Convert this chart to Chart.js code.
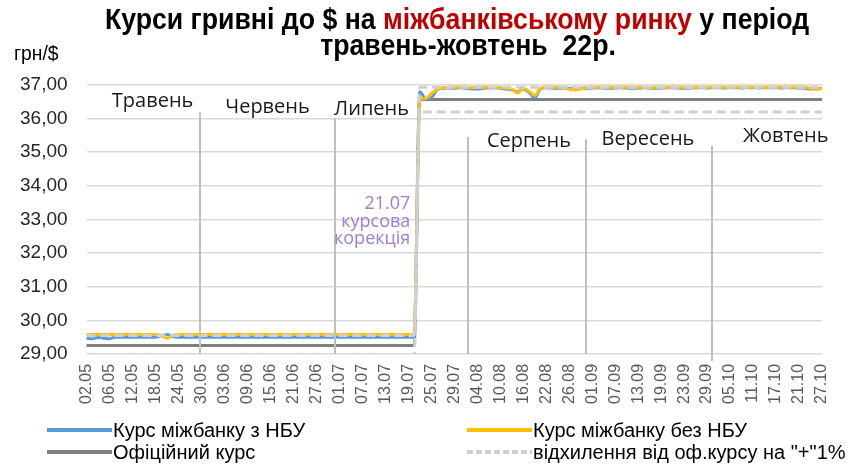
<!DOCTYPE html>
<html>
<head>
<meta charset="utf-8">
<script src="https://cdn.jsdelivr.net/npm/chart.js@4.4.1/dist/chart.umd.min.js"></script>
<style>
html, body { margin: 0; padding: 0; background: #fff; }
#wrap { position: relative; width: 864px; height: 464px; overflow: hidden; font-family: "Liberation Sans", Arial, sans-serif; }
#chart { position: absolute; left: 0; top: 0; }
.title { position: absolute; width: 900px; text-align: center; white-space: nowrap; font-weight: bold;
  font-family: "Liberation Sans", Arial, sans-serif; font-size: 29px; line-height: 30px; color: #000;
  transform: scaleX(0.92); transform-origin: center; }
.red { color: #c00000; }
#unit { position: absolute; left: 14px; top: 41px; font-size: 21px; color: #000; transform: scaleX(0.92); transform-origin: left; }
.leg { position: absolute; height: 22px; display: flex; align-items: center; font-size: 20px; white-space: nowrap; color: #000; }
.leg svg { margin-right: 1px; }
</style>
</head>
<body>
<div id="wrap">
  <canvas id="chart" width="864" height="464"></canvas>
  <div class="title" style="left:7px; top:4px;">Курси гривні до $ на <span class="red">міжбанківському ринку</span> у період</div>
  <div class="title" style="left:18px; top:30px;">травень-жовтень &nbsp;22р.</div>
  <div id="unit">грн/$</div>
  <div id="legend"></div>
</div>
<script>
// trading days, May - October 2022
const dates = [
  '02.05','03.05','04.05','05.05','06.05','09.05','10.05','11.05','12.05','13.05','16.05','17.05','18.05','19.05','20.05','23.05','24.05','25.05','26.05','27.05','30.05','31.05',
  '01.06','02.06','03.06','06.06','07.06','08.06','09.06','10.06','13.06','14.06','15.06','16.06','17.06','20.06','21.06','22.06','23.06','24.06','27.06','28.06','29.06','30.06',
  '01.07','04.07','05.07','06.07','07.07','08.07','11.07','12.07','13.07','14.07','15.07','18.07','19.07','20.07','21.07','22.07','25.07','26.07','27.07','28.07','29.07',
  '01.08','02.08','03.08','04.08','05.08','08.08','09.08','10.08','11.08','12.08','15.08','16.08','17.08','18.08','19.08','22.08','23.08','24.08','25.08','26.08','29.08','30.08','31.08',
  '01.09','02.09','05.09','06.09','07.09','08.09','09.09','12.09','13.09','14.09','15.09','16.09','19.09','20.09','21.09','22.09','23.09','26.09','27.09','28.09','29.09','30.09',
  '03.10','04.10','05.10','06.10','07.10','10.10','11.10','12.10','13.10','14.10','17.10','18.10','19.10','20.10','21.10','24.10','25.10','26.10','27.10'
];
const labelEvery = 4;

const withNbu = [
  29.47,29.45,29.49,29.47,29.45,29.50,29.50,29.50,29.50,29.50,29.50,29.50,29.50,29.54,29.58,29.52,29.50,29.50,29.50,29.50,29.50,29.50,
  29.50,29.50,29.50,29.50,29.50,29.50,29.50,29.50,29.50,29.50,29.50,29.50,29.50,29.50,29.50,29.50,29.50,29.50,29.50,29.50,29.50,29.50,
  29.50,29.50,29.50,29.50,29.50,29.50,29.50,29.50,29.50,29.50,29.50,29.50,29.50,29.50,36.80,36.60,36.62,36.86,36.90,36.91,36.90,
  36.92,36.90,36.88,36.88,36.90,36.91,36.92,36.90,36.88,36.86,36.80,36.88,36.78,36.62,36.88,36.92,36.91,36.90,36.91,36.90,36.90,36.91,36.90,
  36.91,36.92,36.91,36.90,36.91,36.92,36.91,36.90,36.91,36.92,36.91,36.90,36.91,36.92,36.92,36.91,36.90,36.91,36.92,36.92,36.91,36.92,
  36.92,36.91,36.92,36.92,36.91,36.92,36.92,36.91,36.92,36.92,36.92,36.91,36.92,36.92,36.91,36.90,36.88,36.89,36.90
];
const withoutNbu = [
  29.58,29.58,29.58,29.58,29.58,29.58,29.58,29.58,29.58,29.58,29.58,29.58,29.58,29.55,29.47,29.55,29.58,29.58,29.58,29.58,29.58,29.58,
  29.58,29.58,29.58,29.58,29.58,29.58,29.58,29.58,29.58,29.58,29.58,29.58,29.58,29.58,29.58,29.58,29.58,29.58,29.58,29.58,29.58,29.58,
  29.58,29.58,29.58,29.58,29.58,29.58,29.58,29.58,29.58,29.58,29.58,29.58,29.58,29.58,36.58,36.60,36.74,36.87,36.92,36.93,36.93,
  36.93,36.93,36.92,36.93,36.93,36.93,36.93,36.92,36.91,36.88,36.76,36.90,36.82,36.69,36.90,36.93,36.93,36.93,36.93,36.88,36.85,36.88,36.93,
  36.93,36.93,36.93,36.93,36.93,36.93,36.93,36.93,36.93,36.93,36.91,36.93,36.93,36.93,36.93,36.93,36.93,36.93,36.93,36.93,36.93,36.93,
  36.93,36.93,36.93,36.93,36.93,36.93,36.93,36.93,36.93,36.93,36.93,36.93,36.93,36.93,36.93,36.93,36.90,36.87,36.90
];
const official = [
  29.25,29.25,29.25,29.25,29.25,29.25,29.25,29.25,29.25,29.25,29.25,29.25,29.25,29.25,29.25,29.25,29.25,29.25,29.25,29.25,29.25,29.25,
  29.25,29.25,29.25,29.25,29.25,29.25,29.25,29.25,29.25,29.25,29.25,29.25,29.25,29.25,29.25,29.25,29.25,29.25,29.25,29.25,29.25,29.25,
  29.25,29.25,29.25,29.25,29.25,29.25,29.25,29.25,29.25,29.25,29.25,29.25,29.25,29.25,36.57,36.57,36.57,36.57,36.57,36.57,36.57,
  36.57,36.57,36.57,36.57,36.57,36.57,36.57,36.57,36.57,36.57,36.57,36.57,36.57,36.57,36.57,36.57,36.57,36.57,36.57,36.57,36.57,36.57,36.57,
  36.57,36.57,36.57,36.57,36.57,36.57,36.57,36.57,36.57,36.57,36.57,36.57,36.57,36.57,36.57,36.57,36.57,36.57,36.57,36.57,36.57,36.57,
  36.57,36.57,36.57,36.57,36.57,36.57,36.57,36.57,36.57,36.57,36.57,36.57,36.57,36.57,36.57,36.57,36.57,36.57,36.57
];
// +1% and -1% from the official rate
const plusOne = [
  29.55,29.55,29.55,29.55,29.55,29.55,29.55,29.55,29.55,29.55,29.55,29.55,29.55,29.55,29.55,29.55,29.55,29.55,29.55,29.55,29.55,29.55,
  29.55,29.55,29.55,29.55,29.55,29.55,29.55,29.55,29.55,29.55,29.55,29.55,29.55,29.55,29.55,29.55,29.55,29.55,29.55,29.55,29.55,29.55,
  29.55,29.55,29.55,29.55,29.55,29.55,29.55,29.55,29.55,29.55,29.55,29.55,29.55,29.55,36.93,36.93,36.93,36.93,36.93,36.93,36.93,
  36.93,36.93,36.93,36.93,36.93,36.93,36.93,36.93,36.93,36.93,36.93,36.93,36.93,36.93,36.93,36.93,36.93,36.93,36.93,36.93,36.93,36.93,36.93,
  36.93,36.93,36.93,36.93,36.93,36.93,36.93,36.93,36.93,36.93,36.93,36.93,36.93,36.93,36.93,36.93,36.93,36.93,36.93,36.93,36.93,36.93,
  36.93,36.93,36.93,36.93,36.93,36.93,36.93,36.93,36.93,36.93,36.93,36.93,36.93,36.93,36.93,36.93,36.93,36.93,36.93
];
const minusOne = [
  28.96,28.96,28.96,28.96,28.96,28.96,28.96,28.96,28.96,28.96,28.96,28.96,28.96,28.96,28.96,28.96,28.96,28.96,28.96,28.96,28.96,28.96,
  28.96,28.96,28.96,28.96,28.96,28.96,28.96,28.96,28.96,28.96,28.96,28.96,28.96,28.96,28.96,28.96,28.96,28.96,28.96,28.96,28.96,28.96,
  28.96,28.96,28.96,28.96,28.96,28.96,28.96,28.96,28.96,28.96,28.96,28.96,28.96,28.96,36.20,36.20,36.20,36.20,36.20,36.20,36.20,
  36.20,36.20,36.20,36.20,36.20,36.20,36.20,36.20,36.20,36.20,36.20,36.20,36.20,36.20,36.20,36.20,36.20,36.20,36.20,36.20,36.20,36.20,36.20,
  36.20,36.20,36.20,36.20,36.20,36.20,36.20,36.20,36.20,36.20,36.20,36.20,36.20,36.20,36.20,36.20,36.20,36.20,36.20,36.20,36.20,36.20,
  36.20,36.20,36.20,36.20,36.20,36.20,36.20,36.20,36.20,36.20,36.20,36.20,36.20,36.20,36.20,36.20,36.20,36.20,36.20
];
const yMin = 29, yMax = 37, yStep = 1;

// month names: [text, category index, value at baseline]
const monthNames = [
  ['Травень', 11.5, 36.34], ['Червень', 31.5, 36.16], ['Липень', 49.6, 36.10],
  ['Серпень', 77.0, 35.15], ['Вересень', 97.7, 35.21], ['Жовтень', 121.7, 35.30]
];
// month separators: [category index, top value, bottom value]
const separators = [[19.8, 36.19, 29], [43.3, 36.01, 29], [66.4, 35.45, 29], [87.0, 35.39, 29], [108.9, 35.2, 28.78]];
// note on the devaluation day
const noteLines = ['21.07', 'курсова', 'корекція'];
const noteValues = [33.32, 32.77, 32.28];
const noteIndex = 56.35;

const annotations = {
  id: 'annotations',
  afterDatasetsDraw(chart) {
    const { ctx, scales: { x, y } } = chart;
    ctx.save();
    ctx.strokeStyle = '#bfbfbf';
    ctx.lineWidth = 2;
    separators.forEach(([i, top, bottom]) => {
      const px = Math.round(x.getPixelForValue(i));
      ctx.beginPath();
      ctx.moveTo(px, y.getPixelForValue(top));
      ctx.lineTo(px, y.getPixelForValue(bottom));
      ctx.stroke();
    });
    ctx.font = '20px "Open Sans", sans-serif';
    ctx.fillStyle = '#1a1a1a';
    ctx.textAlign = 'center';
    ctx.textBaseline = 'alphabetic';
    monthNames.forEach(([t, i, v]) => ctx.fillText(t, x.getPixelForValue(i), y.getPixelForValue(v)));
    ctx.font = '18px "Open Sans", sans-serif';
    ctx.fillStyle = '#a07cd4';
    ctx.textAlign = 'right';
    noteLines.forEach((t, k) => ctx.fillText(t, x.getPixelForValue(noteIndex), y.getPixelForValue(noteValues[k])));
    ctx.restore();
  }
};

const chart = new Chart(document.getElementById('chart'), {
  type: 'line',
  data: {
    labels: dates,
    datasets: [
      { label: 'Курс міжбанку з НБУ', data: withNbu, borderColor: '#5b9bd5', borderWidth: 3, order: 3 },
      { label: 'Курс міжбанку без НБУ', data: withoutNbu, borderColor: '#ffc000', borderWidth: 3, order: 2 },
      { label: 'Офіційний курс', data: official, borderColor: '#7f7f7f', borderWidth: 3, order: 4 },
      { label: 'відхилення від оф.курсу на "+"1%', data: plusOne, borderColor: '#d0d0d0', borderWidth: 3, borderDash: [9, 5], order: 1 },
      { label: '-1%', data: minusOne, borderColor: '#d0d0d0', borderWidth: 3, borderDash: [9, 5], order: 1, hideInLegend: true }
    ]
  },
  options: {
    responsive: false,
    animation: false,
    layout: { padding: { left: 1, right: 42, top: 85, bottom: 50 } },
    elements: { point: { radius: 0 }, line: { cubicInterpolationMode: 'monotone', fill: false } },
    plugins: { legend: { display: false }, tooltip: { enabled: false } },
    scales: {
      x: {
        offset: false,
        grid: { display: false, drawTicks: false },
        border: { display: false },
        ticks: {
          autoSkip: false, minRotation: 90, maxRotation: 90, padding: 10,
          color: '#595959', font: { family: '"Liberation Sans", Arial', size: 16 },
          callback: (v, i) => (i % labelEvery === 0 ? dates[i] : '')
        }
      },
      y: {
        min: yMin, max: yMax,
        grid: { color: '#d9d9d9', lineWidth: 1.5, drawTicks: false },
        border: { display: false },
        ticks: {
          stepSize: yStep, padding: 19,
          color: '#262626', font: { family: '"Liberation Sans", Arial', size: 19 },
          callback: v => v.toFixed(2).replace('.', ',')
        }
      }
    }
  },
  plugins: [annotations]
});

// legend in two columns, as in the source
const legendSlots = [[47, 419], [467, 419], [47, 441], [467, 441]];
const legendBox = document.getElementById('legend');
chart.data.datasets.filter(d => !d.hideInLegend).forEach((d, k) => {
  const item = document.createElement('div');
  item.className = 'leg';
  item.style.left = legendSlots[k][0] + 'px';
  item.style.top = legendSlots[k][1] + 'px';
  const dash = d.borderDash ? ' stroke-dasharray="6 3"' : '';
  item.innerHTML = '<svg width="65" height="6"><line x1="0" y1="3" x2="65" y2="3" stroke="' + d.borderColor +
    '" stroke-width="4"' + dash + '/></svg>' + d.label;
  legendBox.appendChild(item);
});
</script>
</body>
</html>
